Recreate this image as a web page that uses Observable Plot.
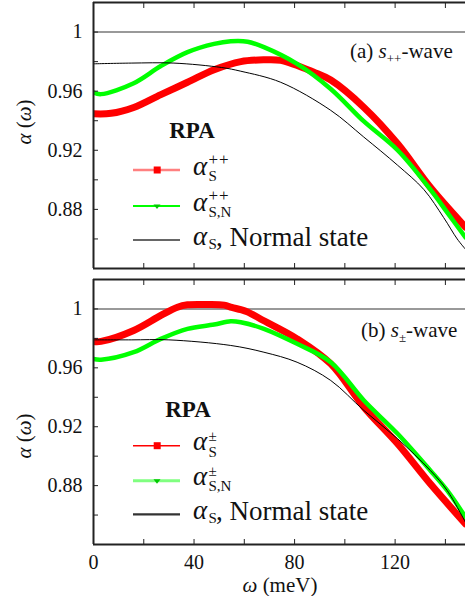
<!DOCTYPE html>
<html>
<head>
<meta charset="utf-8">
<script src="https://cdn.jsdelivr.net/npm/d3@7"></script>
<script src="https://cdn.jsdelivr.net/npm/@observablehq/plot@0.6"></script>
<style>
  body { margin: 0; background: #fff; }
  #chart svg { display: block; }
</style>
</head>
<body>
<div id="chart"></div>
<script>
// ---------- axis ticks ----------
const xTicks = [0, 20, 40, 60, 80, 100, 120, 140];
const xTickLabels = [0, 40, 80, 120];
const yTicks = [0.86, 0.88, 0.90, 0.92, 0.94, 0.96, 0.98, 1.00];
const yTickLabels = [0.88, 0.92, 0.96, 1];
const xDomain = [0, 148];
const yDomain = [0.84, 1.02];

// ---------- panel (a): s++ wave ----------
const aS_x   = [0, 7, 16, 26.8, 37.4, 48, 58.6, 67.8, 74.5, 87.7, 94.4, 107.6, 121, 134, 148];
const aS_y   = [0.9447, 0.9450, 0.949, 0.9577, 0.966, 0.9745, 0.980, 0.9812, 0.9808, 0.9728, 0.9675, 0.949, 0.9244, 0.895, 0.868];
const aSN_x  = [0, 3, 16, 26.8, 37.4, 48, 54.6, 61.3, 67.8, 81, 94.4, 107.6, 121, 134, 140.7, 148];
const aSN_y  = [0.959, 0.958, 0.9654, 0.977, 0.9864, 0.992, 0.9938, 0.9935, 0.9898, 0.9785, 0.9615, 0.9395, 0.920, 0.8935, 0.878, 0.861];
const aNorm_x = [0, 15, 32, 51, 58.6, 74.5, 94.4, 107.5, 120.9, 131.4, 139.3, 144.7, 148];
const aNorm_y = [0.9785, 0.979, 0.979, 0.976, 0.9735, 0.966, 0.947, 0.929, 0.910, 0.8935, 0.8745, 0.860, 0.853];

// ---------- panel (b): s± wave ----------
const bS_x   = [0, 3, 16, 26.8, 33.4, 37.4, 45, 52, 55, 58.6, 61.2, 67.8, 81, 94.4, 107.6, 121, 134, 148];
const bS_y   = [0.9779, 0.978, 0.9854, 0.9956, 1.0012, 1.0028, 1.003, 1.0026, 1.001, 0.9995, 0.998, 0.992, 0.9797, 0.9627, 0.9333, 0.9084, 0.8812, 0.854];
const bSN_x  = [0, 3, 16, 26.8, 37.4, 48, 54.6, 58.6, 67.8, 81, 94.4, 107.6, 121, 134, 140.7, 148];
const bSN_y  = [0.966, 0.9655, 0.9706, 0.9797, 0.9865, 0.9894, 0.9917, 0.991, 0.9865, 0.9763, 0.9638, 0.9378, 0.9152, 0.8903, 0.8767, 0.8586];
const bNorm_x = [0, 15, 30, 54.6, 67.8, 81, 94.4, 107.6, 121, 134, 140.7, 148];
const bNorm_y = [0.979, 0.979, 0.979, 0.9752, 0.9706, 0.9638, 0.9514, 0.931, 0.9118, 0.8903, 0.8767, 0.855];

const pts = (xs, ys) => xs.map((x, i) => ({x, y: ys[i]}));

const FONT = "'Liberation Serif', 'Times New Roman', serif";
const RED = "#ff0000", GREEN = "#00ff00", FRAME = "#222";

function panel({height, marginTop, marginBottom, S, SN, Norm, showLabels}) {
  const marks = [
    Plot.ruleY([1], {stroke: "#777", strokeWidth: 1.5}),
    Plot.line(S, {x: "x", y: "y", stroke: RED, strokeWidth: 7, curve: "catmull-rom", clip: true}),
    Plot.line(SN, {x: "x", y: "y", stroke: GREEN, strokeWidth: 4.5, curve: "catmull-rom", clip: true}),
    Plot.line(Norm, {x: "x", y: "y", stroke: "#000", strokeWidth: 1, curve: "catmull-rom", clip: true}),
    Plot.ruleX([xDomain[0]], {stroke: FRAME, strokeWidth: 2}),
    Plot.ruleY(yDomain, {stroke: FRAME, strokeWidth: 2}),
    Plot.axisY(yTicks, {anchor: "left", tickSize: -5, tickFormat: () => "", stroke: FRAME, label: null}),
    Plot.axisY(yTickLabels, {anchor: "left", tickSize: 0, tickPadding: 11, fontSize: 20, label: null,
      tickFormat: d => d === 1 ? "1" : d.toFixed(2)}),
    Plot.axisX(xTicks, {anchor: "bottom", tickSize: -5, tickFormat: () => "", stroke: FRAME, label: null}),
    Plot.axisX(xTicks, {anchor: "top", tickSize: -5, tickFormat: () => "", stroke: FRAME, label: null})
  ];
  if (showLabels) {
    marks.push(Plot.axisX(xTickLabels, {anchor: "bottom", tickSize: 0, tickPadding: 10, fontSize: 20, label: null}));
  }
  return Plot.plot({
    width: 465, height, marginLeft: 93, marginRight: 0, marginTop, marginBottom,
    x: {domain: xDomain}, y: {domain: yDomain},
    style: {fontFamily: FONT, fontSize: "20px", color: "#111", background: "white", overflow: "visible"},
    marks
  });
}

const topPanel = panel({height: 270, marginTop: 2, marginBottom: 2,
  S: pts(aS_x, aS_y), SN: pts(aSN_x, aSN_y), Norm: pts(aNorm_x, aNorm_y), showLabels: false});
const botPanel = panel({height: 326, marginTop: 9, marginBottom: 52,
  S: pts(bS_x, bS_y), SN: pts(bSN_x, bSN_y), Norm: pts(bNorm_x, bNorm_y), showLabels: true});

const chart = document.getElementById("chart");
chart.appendChild(topPanel);
chart.appendChild(botPanel);

function legend(svg, o) {
  const g = d3.select(svg).append("g")
    .attr("font-family", FONT).attr("fill", "#111").attr("text-anchor", "start");
  g.html(`
    <text x="${o.rpaX}" y="${o.rpaY}" text-anchor="middle" font-weight="bold" font-size="23">RPA</text>
    <line x1="133" x2="180" y1="${o.r1}" y2="${o.r1}" stroke="${o.l1c}" stroke-width="${o.l1w}"/>
    <rect x="153.7" y="${o.r1 - 3.5}" width="7" height="7" fill="${RED}"/>
    <text x="193" y="${o.r1 + 4.5}" font-size="27" font-style="italic">α</text>
    <text x="208.5" y="${o.r1 + 11}" font-size="15">S</text>
    <text x="208.5" y="${o.r1 + o.supDy}" font-size="${o.supFs}" letter-spacing="1">${o.sup}</text>
    <line x1="133" x2="180" y1="${o.r2}" y2="${o.r2}" stroke="${o.l2c}" stroke-width="${o.l2w}"/>
    <path d="M153.5,${o.r2 - 1.5} L160.5,${o.r2 - 1.5} L157,${o.r2 + 3} Z" fill="#00c800"/>
    <text x="193" y="${o.r2 + 4.5}" font-size="27" font-style="italic">α</text>
    <text x="208.5" y="${o.r2 + 10.5}" font-size="15">S,N</text>
    <text x="208.5" y="${o.r2 + o.supDy}" font-size="${o.supFs}" letter-spacing="1">${o.sup}</text>
    <line x1="133" x2="180" y1="${o.r3}" y2="${o.r3}" stroke="${o.l3c}" stroke-width="2.2"/>
    <text x="193" y="${o.r3 + 4.5}" font-size="27" font-style="italic">α</text>
    <text x="208.5" y="${o.r3 + 8.5}" font-size="15">S</text>
    <text x="216" y="${o.r3 + 5.5}" font-size="27">, Normal state</text>
    <text x="${o.tagX}" y="${o.tagY}" font-size="21">${o.tag}</text>
    <text transform="translate(31,${o.ylabY}) rotate(-90)" text-anchor="middle" font-size="21"><tspan font-style="italic">α</tspan> (<tspan font-style="italic">ω</tspan>)</text>
  `);
  return g;
}

legend(topPanel, {
  rpaX: 192, rpaY: 138,
  r1: 170, r2: 206, r3: 240,
  l1c: "#ff8080", l1w: 2.5, l2c: "#00ff00", l2w: 1.8, l3c: "#666",
  sup: "++", supFs: 17, supDy: -5,
  tagX: 350, tagY: 58,
  tag: `(a) <tspan font-style="italic">s</tspan><tspan font-size="13" dy="5">++</tspan><tspan dy="-5">-wave</tspan>`,
  ylabY: 122
});

legend(botPanel, {
  rpaX: 188, rpaY: 147,
  r1: 175.7, r2: 210.7, r3: 244.3,
  l1c: "#ff0000", l1w: 1.5, l2c: "#80ff80", l2w: 3, l3c: "#333",
  sup: "±", supFs: 15, supDy: -5,
  tagX: 361, tagY: 67,
  tag: `(b) <tspan font-style="italic">s</tspan><tspan font-size="13" dy="5">±</tspan><tspan dy="-5">-wave</tspan>`,
  ylabY: 166
});

d3.select(botPanel).append("text")
  .attr("x", 280).attr("y", 322)
  .attr("text-anchor", "middle")
  .attr("font-family", FONT).attr("font-size", 21).attr("fill", "#111")
  .html(`<tspan font-style="italic">ω</tspan> (meV)`);
</script>
</body>
</html>
